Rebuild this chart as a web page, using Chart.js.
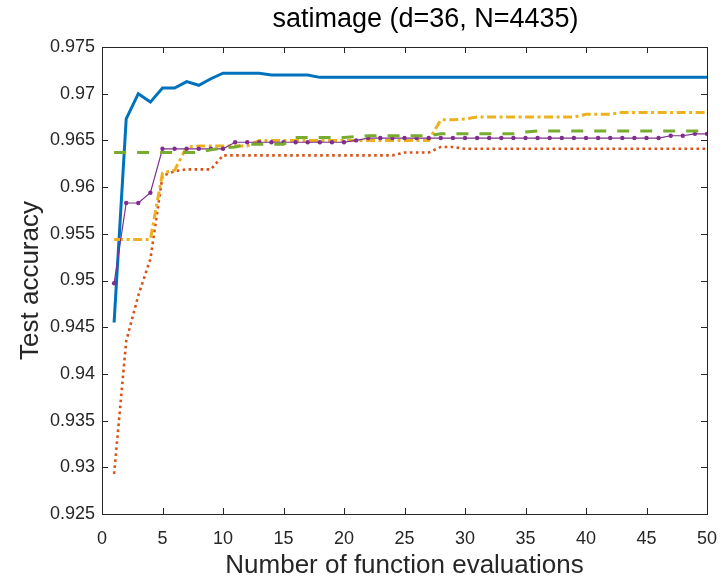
<!DOCTYPE html>
<html>
<head>
<meta charset="utf-8">
<script src="https://cdn.jsdelivr.net/npm/chart.js@4"></script>
<style>
  html, body { margin: 0; padding: 0; background: #fff; }
  #wrap { width: 724px; height: 582px; }
</style>
</head>
<body>
<div id="wrap"><canvas id="mychart" width="724" height="582"></canvas></div>
<script>
// number of function evaluations
const evals = [1, 2, 3, 4, 5, 6, 7, 8, 9, 10, 11, 12, 13, 14, 15, 16, 17, 18, 19, 20,
  21, 22, 23, 24, 25, 26, 27, 28, 29, 30, 31, 32, 33, 34, 35, 36, 37, 38, 39, 40,
  41, 42, 43, 44, 45, 46, 47, 48, 49, 50];

// test accuracy per method
const blueAcc = [0.9455, 0.9673, 0.9700, 0.9691, 0.9706, 0.9706, 0.9713, 0.9709, 0.9716, 0.9722,
  0.9722, 0.9722, 0.9722, 0.9720, 0.9720, 0.9720, 0.9720, 0.97175, 0.97175, 0.97175,
  0.97175, 0.97175, 0.97175, 0.97175, 0.97175, 0.97175, 0.97175, 0.97175, 0.97175, 0.97175,
  0.97175, 0.97175, 0.97175, 0.97175, 0.97175, 0.97175, 0.97175, 0.97175, 0.97175, 0.97175,
  0.97175, 0.97175, 0.97175, 0.97175, 0.97175, 0.97175, 0.97175, 0.97175, 0.97175, 0.97175];
const redAcc = [0.9293, 0.9435, 0.9484, 0.9523, 0.9612, 0.9617, 0.9619, 0.9619, 0.9619, 0.9634,
  0.9634, 0.9634, 0.9634, 0.9634, 0.9634, 0.9634, 0.9634, 0.9634, 0.9634, 0.9634,
  0.9634, 0.9634, 0.9634, 0.9634, 0.9637, 0.9637, 0.9637, 0.9643, 0.9643, 0.9641,
  0.9641, 0.9641, 0.9641, 0.9641, 0.9641, 0.9641, 0.9641, 0.9641, 0.9641, 0.9641,
  0.9641, 0.9641, 0.9641, 0.9641, 0.9641, 0.9641, 0.9641, 0.9641, 0.9641, 0.9641];
const yellowAcc = [0.9544, 0.9544, 0.9544, 0.9544, 0.9615, 0.9618, 0.9643, 0.9644, 0.9644, 0.9644,
  0.9644, 0.9644, 0.9650, 0.9650, 0.9650, 0.9650, 0.9650, 0.9650, 0.9650, 0.9650,
  0.9650, 0.9650, 0.9650, 0.9650, 0.9650, 0.9650, 0.9650, 0.9672, 0.9672, 0.9673,
  0.9675, 0.9675, 0.9675, 0.9675, 0.9675, 0.9675, 0.9675, 0.9675, 0.9675, 0.9678,
  0.9678, 0.9678, 0.9680, 0.9680, 0.9680, 0.9680, 0.9680, 0.9680, 0.9680, 0.9680];
const purpleAcc = [0.9497, 0.9583, 0.9583, 0.9594, 0.9641, 0.9641, 0.9641, 0.9641, 0.9641, 0.9641,
  0.9648, 0.9648, 0.9648, 0.9648, 0.9648, 0.9648, 0.9648, 0.9648, 0.9648, 0.9648,
  0.9650, 0.96525, 0.96525, 0.96525, 0.96525, 0.96525, 0.96525, 0.96525, 0.96525, 0.96525,
  0.96525, 0.96525, 0.96525, 0.96525, 0.96525, 0.96525, 0.96525, 0.96525, 0.96525, 0.96525,
  0.96525, 0.96525, 0.96525, 0.96525, 0.96525, 0.96525, 0.9655, 0.9655, 0.9657, 0.9657];
const greenAcc = [0.9637, 0.9637, 0.9637, 0.9637, 0.9637, 0.9637, 0.9637, 0.9637, 0.9640, 0.9642,
  0.9643, 0.9646, 0.9646, 0.9646, 0.9646, 0.9653, 0.9653, 0.9653, 0.9653, 0.9653,
  0.9654, 0.9655, 0.9655, 0.9655, 0.9655, 0.9655, 0.9655, 0.9657, 0.9657, 0.9657,
  0.9657, 0.9657, 0.9657, 0.9657, 0.9659, 0.9660, 0.9660, 0.9660, 0.9660, 0.9660,
  0.9660, 0.9660, 0.9660, 0.9660, 0.9660, 0.9660, 0.9660, 0.9660, 0.9660, 0.9660];

const xTicks = [0, 5, 10, 15, 20, 25, 30, 35, 40, 45, 50];
const yTicks = [0.925, 0.93, 0.935, 0.94, 0.945, 0.95, 0.955, 0.96, 0.965, 0.97, 0.975];
const yTickLabels = ["0.925", "0.93", "0.935", "0.94", "0.945", "0.95", "0.955", "0.96", "0.965", "0.97", "0.975"];

const FONT = "'Liberation Sans', Arial, Helvetica, sans-serif";
const INK = "#262626";

function pts(ys) {
  return evals.map((x, i) => ({x: x, y: ys[i]}));
}

// matlab style box with inward ticks on all four sides
const matlabBox = {
  id: "matlabBox",
  afterLayout(chart) {
    // the title in the picture sits a little right of the axes centre
    if (chart.titleBlock) {
      chart.titleBlock.left += 21;
      chart.titleBlock.right += 21;
    }
  },
  afterDatasetsDraw(chart) {
    const {ctx, chartArea: a, scales} = chart;
    const len = 6;
    ctx.save();
    ctx.strokeStyle = INK;
    ctx.lineWidth = 1;
    ctx.beginPath();
    scales.x.ticks.forEach(t => {
      const px = Math.round(scales.x.getPixelForValue(t.value)) + 0.5;
      ctx.moveTo(px, a.bottom); ctx.lineTo(px, a.bottom - len);
      ctx.moveTo(px, a.top); ctx.lineTo(px, a.top + len);
    });
    scales.y.ticks.forEach(t => {
      const py = Math.round(scales.y.getPixelForValue(t.value)) + 0.5;
      ctx.moveTo(a.left, py); ctx.lineTo(a.left + len, py);
      ctx.moveTo(a.right, py); ctx.lineTo(a.right - len, py);
    });
    ctx.stroke();
    ctx.strokeRect(Math.round(a.left) + 0.5, Math.round(a.top) + 0.5,
      Math.round(a.right - a.left), Math.round(a.bottom - a.top));
    ctx.restore();
  }
};

const ctx = document.getElementById("mychart");
new Chart(ctx, {
  type: "line",
  data: {
    datasets: [
      {data: pts(blueAcc), borderColor: "#0072BD", borderWidth: 3, pointRadius: 0, order: 5},
      {data: pts(redAcc), borderColor: "#D95319", borderWidth: 2.6, borderDash: [2.6, 3.4], pointRadius: 0, order: 4},
      {data: pts(yellowAcc), borderColor: "#EDB120", borderWidth: 3, borderDash: [9, 3.5, 3, 3.5], pointRadius: 0, order: 3},
      {data: pts(purpleAcc), borderColor: "#7E2F8E", borderWidth: 1.2, pointRadius: 2.2,
        pointBackgroundColor: "#7E2F8E", pointBorderWidth: 0, order: 2},
      {data: pts(greenAcc), borderColor: "#77AC30", borderWidth: 3, borderDash: [12, 11], pointRadius: 0, order: 1}
    ]
  },
  options: {
    responsive: false,
    animation: false,
    devicePixelRatio: 1,
    layout: {padding: {left: 0, right: 17, top: 0, bottom: 0}},
    elements: {line: {tension: 0, fill: false}},
    plugins: {
      legend: {display: false},
      tooltip: {enabled: false},
      title: {
        display: true,
        fullSize: false,
        text: "satimage (d=36, N=4435)",
        color: "#000",
        font: {family: FONT, size: 27, weight: "normal"},
        padding: {top: 3, bottom: 11.6}
      }
    },
    scales: {
      x: {
        type: "linear",
        min: 0, max: 50,
        afterBuildTicks: s => { s.ticks = xTicks.map(v => ({value: v})); },
        afterFit: s => { s.height = 68; s.paddingLeft = 0; s.paddingRight = 0; },
        grid: {display: false, drawTicks: false},
        border: {display: false},
        ticks: {color: INK, font: {family: FONT, size: 18}, padding: 14, maxRotation: 0},
        title: {display: true, text: "Number of function evaluations", color: INK,
          font: {family: FONT, size: 26}, padding: {top: 0, bottom: 1}}
      },
      y: {
        min: 0.925, max: 0.975,
        afterBuildTicks: s => { s.ticks = yTicks.map(v => ({value: v})); },
        afterFit: s => { s.width = 102; s.paddingTop = 0; s.paddingBottom = 0; },
        grid: {display: false, drawTicks: false},
        border: {display: false},
        ticks: {color: INK, font: {family: FONT, size: 18}, padding: 7,
          callback: (v, i) => yTickLabels[i]},
        title: {display: true, text: "Test accuracy", color: INK,
          font: {family: FONT, size: 26}, padding: {top: 15, bottom: 0}}
      }
    }
  },
  plugins: [matlabBox]
});
</script>
</body>
</html>
